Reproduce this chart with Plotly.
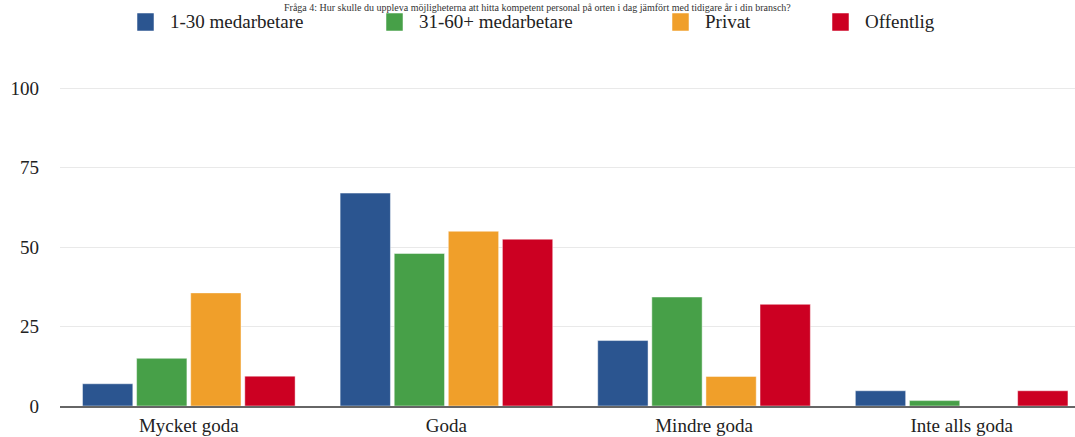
import plotly.graph_objects as go

# Survey answers (percent of respondents) per answer category
categories = ["Mycket goda", "Goda", "Mindre goda", "Inte alls goda"]
series_names = ["1-30 medarbetare", "31-60+ medarbetare", "Privat", "Offentlig"]
small_firms = [7, 67, 20.6, 4.8]
large_firms = [15, 48, 34.3, 1.7]
private_sector = [35.6, 55, 9.3, 0]
public_sector = [9.4, 52.5, 32, 4.8]
y_ticks = [0, 25, 50, 75, 100]

colors = ["#2b5590", "#47a048", "#f09f2a", "#cc0022"]
title_text = ("Fråga 4: Hur skulle du uppleva möjligheterna att hitta kompetent personal "
              "på orten i dag jämfört med tidigare år i din bransch?")

W, H = 1075, 437
L, T, B = 60, 87, 31
plot_w = W - L
plot_h = H - T - B
SERIF = "Liberation Serif, Times New Roman, serif"
TXT = 19


def px_x(px):
    return (px - L) / plot_w


def px_y(py):
    return (H - B - py) / plot_h


fig = go.Figure()
for name, vals, col in zip(series_names,
                           [small_firms, large_firms, private_sector, public_sector],
                           colors):
    fig.add_trace(go.Bar(
        x=categories, y=vals, name=name,
        marker=dict(color=col, line=dict(color="rgba(255,255,255,0.45)", width=1)),
        showlegend=False,
    ))

# Hand-drawn legend row across the top
legend_sq_x = [137, 386, 672, 832]
shapes = []
annotations = []
for name, col, sx in zip(series_names, colors, legend_sq_x):
    shapes.append(dict(
        type="rect", xref="paper", yref="paper",
        x0=px_x(sx), x1=px_x(sx + 17), y0=px_y(31), y1=px_y(13),
        fillcolor=col, line=dict(color="rgba(255,255,255,0.5)", width=1),
    ))
    annotations.append(dict(
        text=name, xref="paper", yref="paper", x=px_x(sx + 31), y=px_y(22),
        xanchor="left", yanchor="middle", showarrow=False,
        font=dict(family=SERIF, size=TXT, color="#222"),
    ))

annotations.append(dict(
    text=title_text, xref="paper", yref="paper", x=px_x(W / 2), y=px_y(0),
    xanchor="center", yanchor="top", showarrow=False,
    font=dict(family=SERIF, size=10, color="#333"),
))

fig.update_layout(
    width=W, height=H,
    margin=dict(l=L, r=0, t=T, b=B, pad=0),
    paper_bgcolor="white", plot_bgcolor="white",
    barmode="group", bargap=0.16, bargroupgap=0.07,
    shapes=shapes, annotations=annotations,
    showlegend=False,
    xaxis=dict(
        type="category", range=[-0.5, 3.44], automargin=False,
        showline=True, linecolor="#666", linewidth=2,
        showgrid=False, ticks="", ticklabelstandoff=1,
        tickfont=dict(family=SERIF, size=TXT, color="#222"),
    ),
    yaxis=dict(
        range=[0, 100.4], tickvals=y_ticks, ticktext=[str(v) for v in y_ticks],
        automargin=False,
        showgrid=True, gridcolor="#e9e9e9", gridwidth=1,
        zeroline=False, showline=False, ticks="", ticklabelstandoff=20,
        tickfont=dict(family=SERIF, size=TXT, color="#222"),
    ),
)

fig.write_html("out.html")
